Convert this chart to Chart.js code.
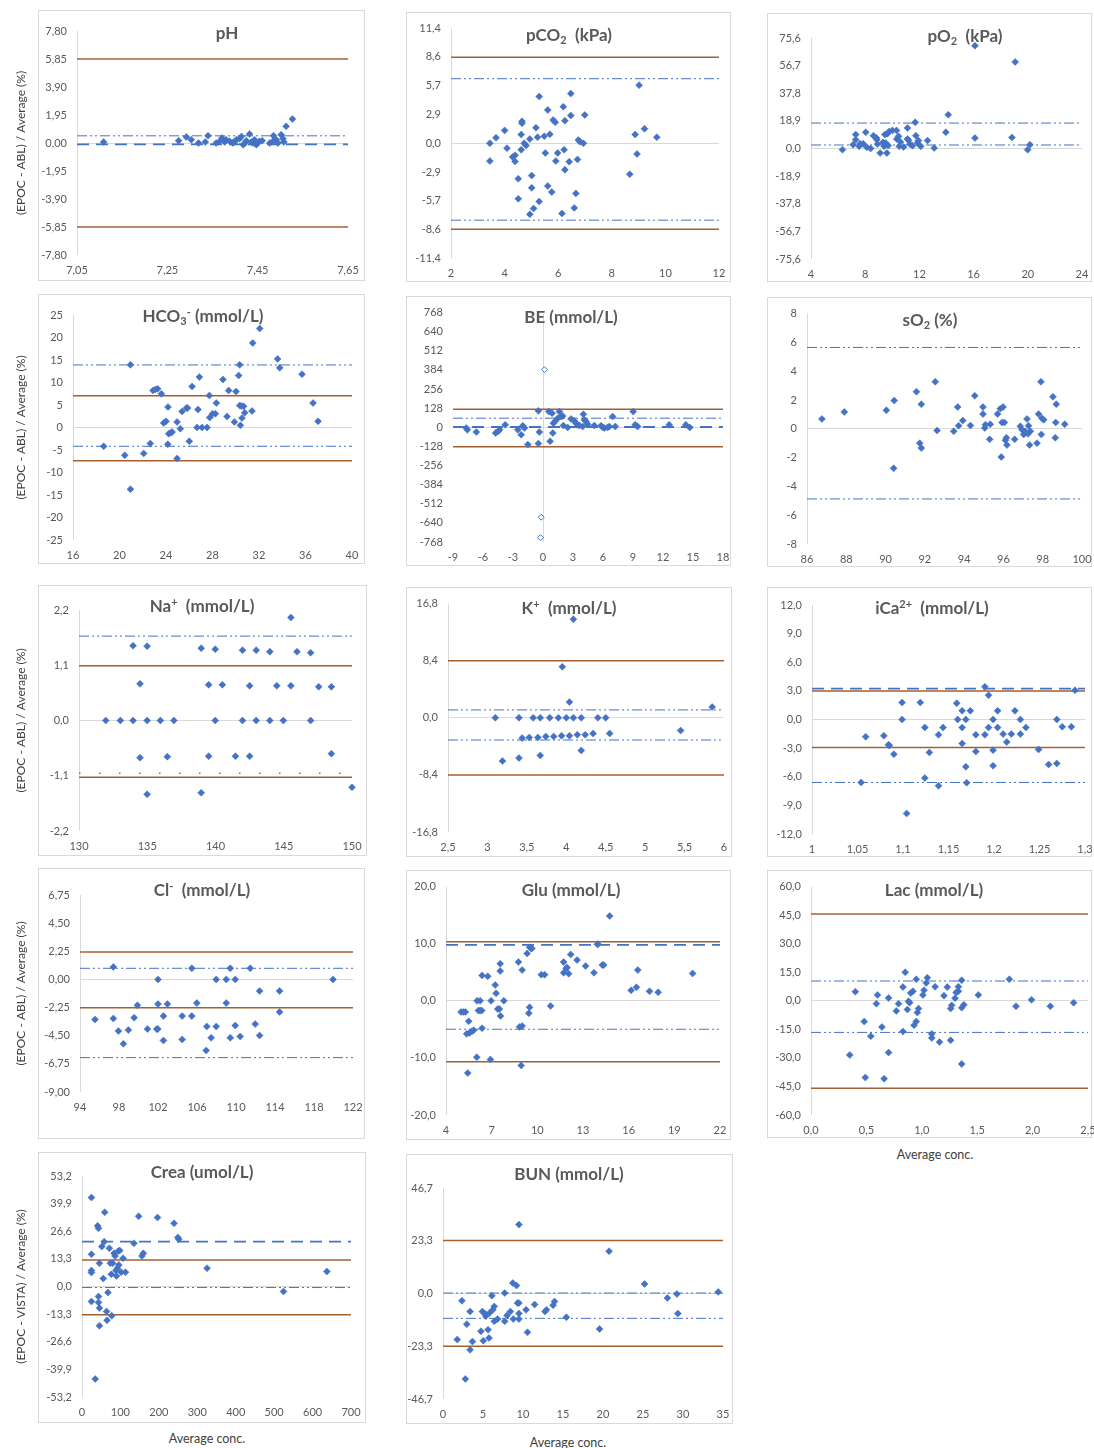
<!DOCTYPE html>
<html>
<head>
<meta charset="utf-8">
<title>EPOC Bland-Altman plots</title>
<script src="https://cdn.jsdelivr.net/npm/chart.js@4.4.1/dist/chart.umd.min.js"></script>
<style>
  html, body { margin: 0; padding: 0; background: #fff; overflow: hidden; }
  #page { position: relative; width: 1094px; height: 1448px; }
  .box { position: absolute; box-sizing: border-box; border: 1px solid #d9d9d9; }
  .plot { position: absolute; }
  .ttl { position: absolute; transform: translate(-50%, -50%); font: bold 17px Lato, sans-serif; color: #595959; white-space: nowrap; z-index: 2; }
  .ttl sub, .ttl sup { font-size: 11px; line-height: 0; }
  .ttl sub { vertical-align: -3px; }
  .ttl sup { vertical-align: 6px; }
  .xt { position: absolute; transform: translate(-50%, -50%); font: 12.5px Lato, sans-serif; color: #404040; white-space: nowrap; }
</style>
</head>
<body>
<div id="page"></div>
<script>
// ---- pH ----
const phAvg = [7.109,7.275,7.292,7.303,7.319,7.334,7.34,7.358,7.366,7.371,7.377,7.38,7.388,7.395,7.398,7.403,7.41,7.414,7.418,7.422,7.425,7.432,7.436,7.44,7.443,7.447,7.45,7.454,7.46,7.477,7.484,7.485,7.491,7.495,7.502,7.506,7.508,7.513,7.527];
const phDiff = [0.07,0.16,0.42,0.23,0,0.07,0.51,0,0.12,0.35,0.07,0.23,0.12,0,0.07,0.23,0.3,0.46,-0.12,0,0.16,0.63,0.07,0,0.23,-0.12,0,0.12,0.16,0,0.12,0.51,0.23,0,0.58,0.3,0.07,1.16,1.67];
const phXTicks = [7.05, 7.25, 7.45, 7.65];
const phYTicks = [-7.8, -5.85, -3.9, -1.95, 0, 1.95, 3.9, 5.85, 7.8];
const phBrown = [5.85, -5.85];
const phBlue = [0.5];
const phDashed = [-0.1];

// ---- pCO2 ----
const pco2Avg = [3.45,3.45,3.68,4.0,4.09,4.3,4.39,4.39,4.51,4.51,4.62,4.62,4.65,4.65,4.73,4.8,4.94,4.94,5.01,5.01,5.08,5.17,5.23,5.29,5.29,5.52,5.48,5.61,5.61,5.69,5.76,5.81,5.89,5.91,5.98,6.14,6.19,6.22,6.25,6.25,6.41,6.47,6.47,6.6,6.66,6.72,6.75,6.81,6.94,6.99,8.67,8.87,8.94,9.02,9.22,9.68];
const pco2Diff = [0,-1.77,0.55,1.28,-0.48,-1.35,-1.19,-1.8,-3.53,-5.52,0.87,-0.64,1.99,2.18,0,-0.22,0.42,-7.06,-4.43,-3.21,-6.48,1.54,0.61,-5.78,4.65,-0.96,0.71,3.31,-4.24,0.9,-4.85,2.31,2.09,-1.77,-0.96,-6.97,3.63,-0.64,2.25,-2.63,-1.83,4.94,2.76,-6.42,-4.98,-1.6,0.32,0.16,0,2.82,-3.08,0.87,-1.06,5.78,1.44,0.61];
const pco2XTicks = [2, 4, 6, 8, 10, 12];
const pco2YTicks = [-11.4, -8.6, -5.7, -2.9, 0, 2.9, 5.7, 8.6, 11.4];
const pco2Brown = [8.55, -8.55];
const pco2Blue = [6.42, -7.64];

// ---- pO2 ----
const po2Avg = [6.32,7.11,7.3,7.3,7.55,7.62,7.85,8.04,8.12,8.4,8.61,8.83,8.86,8.91,9.1,9.32,9.4,9.45,9.52,9.6,9.64,9.7,9.77,10.01,10.31,10.33,10.46,10.51,10.6,10.83,11.12,11.12,11.2,11.3,11.49,11.69,11.74,11.86,11.93,12.1,12.6,13.09,13.95,14.13,16.1,16.1,18.83,19.07,19.99,20.16];
const po2Diff = [-0.8,2.6,6.0,9.5,1.5,3.3,3.3,11.1,0.8,0,8.8,7.2,6.0,3.1,-3.1,4.2,1.5,9.5,3.8,-3.1,10.1,2.0,11.7,12.4,12.4,6.5,8.3,1.5,4.5,1.0,14.0,6.5,5.6,3.0,1.9,17.9,8.8,3.8,5.4,1.5,5.4,0.3,11.1,23.1,70.3,7.2,7.6,59.2,-0.8,2.6];
const po2XTicks = [4, 8, 12, 16, 20, 24];
const po2YTicks = [-75.6, -56.7, -37.8, -18.9, 0, 18.9, 37.8, 56.7, 75.6];
const po2Blue = [17.4, 2.4];

// ---- HCO3- ----
const hco3Avg = [18.64,20.45,20.94,20.94,22.08,22.65,22.88,23.08,23.28,23.6,23.8,24.0,24.15,24.17,24.23,24.43,24.52,24.95,24.95,25.23,25.38,25.75,25.86,26.0,26.24,26.67,26.75,26.87,27.1,27.53,27.73,27.76,28.0,28.25,28.33,28.9,29.25,29.39,29.88,30.02,30.25,30.34,30.34,30.4,30.48,30.54,30.68,30.77,31.4,31.46,32.06,33.6,33.78,35.7,36.65,37.08];
const hco3Diff = [-4.17,-6.16,13.92,-13.7,-5.76,-3.58,8.23,8.46,8.6,7.5,1.0,1.37,-3.73,4.54,-1.37,-1.15,-1.0,-6.9,1.22,-0.26,3.58,4.32,4.32,-3.06,9.12,0,4.0,11.2,0,0,7.1,2.2,3.06,3.06,5.43,10.67,2.47,8.23,1.22,8.0,11.56,4.9,13.92,0.48,4.76,2.1,4.7,3.29,3.66,18.8,22.0,15.25,13.26,11.85,5.43,1.37];
const hco3XTicks = [16, 20, 24, 28, 32, 36, 40];
const hco3YTicks = [-25, -20, -15, -10, -5, 0, 5, 10, 15, 20, 25];
const hco3Brown = [7.05, -7.4];
const hco3Blue = [13.9, -4.17];

// ---- BE ----
const beAvg = [-7.67,-7.57,-6.67,-4.74,-4.51,-4.34,-3.78,-2.52,-2.18,-2.02,-1.85,-1.52,-0.46,-0.46,-0.36,0.58,0.71,0.91,0.98,1.04,1.24,1.48,1.64,1.81,1.97,2.04,2.47,2.81,3.14,3.3,3.47,3.64,4.04,3.97,4.14,4.3,4.47,5.13,5.8,5.96,6.13,6.46,6.63,6.96,7.23,9.02,9.22,9.46,12.62,14.28,14.68];
const beDiff = [-5.5,-16.6,-32,-38.7,-27.6,-16.6,16.6,-16.6,-49.7,9.9,-5.5,-116,-109,110,-32,105,-94,94,-38.7,27.6,43,61,105,72,76,12,-1,56,43,27.6,16.6,12,87,5.5,50,38.7,21,12,10,1,-5.5,-1,5.5,72,5.5,105,16.6,5.5,16.6,16.6,-1];
const beOutAvg = [0.15, -0.18, -0.25];
const beOutDiff = [386, -602, -739];
const beXTicks = [-9, -6, -3, 0, 3, 6, 9, 12, 15, 18];
const beYTicks = [-768, -640, -512, -384, -256, -128, 0, 128, 256, 384, 512, 640, 768];
const beBrown = [121, -130];
const beBlue = [61];
const beDashed = [2];

// ---- sO2 ----
const so2Avg = [86.76,87.9,90.04,90.41,90.44,91.57,91.74,91.82,91.82,92.53,92.62,93.47,93.67,93.72,93.93,94.32,94.54,94.96,94.96,95.05,95.08,95.3,95.33,95.7,95.84,95.89,95.93,95.98,96.05,96.1,96.15,96.18,96.57,96.86,96.95,97.03,97.11,97.2,97.25,97.28,97.33,97.37,97.71,97.79,97.91,97.93,97.96,98.05,98.52,98.64,98.66,98.69,99.12];
const so2Diff = [0.68,1.17,1.29,-2.74,1.96,2.58,-1.0,-1.33,1.71,3.26,-0.12,-0.17,1.51,0.21,0.57,0.23,2.29,1.51,1.02,0.06,0.28,-0.73,0.32,1.02,1.4,-1.96,0.44,1.51,0.44,-0.79,-0.62,-1.13,-0.73,0.17,-0.06,-0.39,-0.17,0.68,-0.35,0.21,-1.13,-0.17,-1.0,1.02,3.26,-0.39,0.73,0.62,2.23,-0.62,0.44,1.71,0.32];
const so2XTicks = [86, 88, 90, 92, 94, 96, 98, 100];
const so2YTicks = [-8, -6, -4, -2, 0, 2, 4, 6, 8];
const so2Blue = [5.65, -4.87];

// ---- Na+ ----
const naAvg = [131.96,133.03,133.96,133.96,134.47,134.47,134.99,134.99,134.99,135.96,136.47,136.95,138.95,138.95,139.5,139.5,139.98,139.98,140.5,141.46,141.98,141.98,142.5,142.5,142.98,142.98,143.98,143.98,144.49,144.97,145.52,145.52,145.97,146.97,146.97,147.56,148.49,148.49,150];
const naDiff = [0,0,0,1.49,0.73,-0.74,0,1.48,-1.47,0,-0.72,0,1.44,-1.44,0.71,-0.71,1.42,0,0.71,-0.71,1.4,0,0.69,-0.71,1.4,0,1.37,0,0.69,0,2.05,0.69,1.37,1.35,0,0.67,0.67,-0.66,-1.33];
const naXTicks = [130, 135, 140, 145, 150];
const naYTicks = [-2.2, -1.1, 0, 1.1, 2.2];
const naBrown = [1.09, -1.13];
const naBlue = [1.68];
const naDotted = [-1.05];

// ---- K+ ----
const kAvg = [3.1,3.19,3.4,3.4,3.44,3.53,3.58,3.64,3.67,3.67,3.74,3.79,3.84,3.9,3.94,3.95,4.0,4.04,4.04,4.09,4.09,4.14,4.19,4.19,4.24,4.34,4.4,4.5,4.55,5.45,5.85];
const kDiff = [0,-6.36,0,-5.92,-2.98,-2.89,0,-2.89,0,-5.54,-2.74,0,-2.74,0,-2.65,7.51,0,-2.65,2.31,0,14.5,-2.5,0,-4.8,-2.5,-2.3,0,0,-2.3,-1.88,1.59];
const kXTicks = [2.5, 3, 3.5, 4, 4.5, 5, 5.5, 6];
const kYTicks = [-16.8, -8.4, 0, 8.4, 16.8];
const kBrown = [8.4, -8.4];
const kBlue = [1.16, -3.27];

// ---- iCa2+ ----
const icaAvg = [1.054,1.059,1.079,1.084,1.085,1.09,1.099,1.099,1.104,1.119,1.124,1.124,1.129,1.139,1.139,1.144,1.159,1.16,1.165,1.165,1.165,1.169,1.169,1.17,1.174,1.18,1.18,1.19,1.19,1.194,1.194,1.199,1.199,1.199,1.204,1.204,1.21,1.214,1.219,1.223,1.229,1.229,1.235,1.249,1.26,1.269,1.269,1.275,1.285,1.289];
const icaDiff = [-6.59,-1.81,-1.71,-2.65,-2.72,-3.63,1.78,0,-9.84,1.78,-0.84,-6.14,-3.45,-1.6,-6.94,-0.84,1.71,0,0.91,-0.84,-2.51,0,-4.95,-6.63,0.91,-1.6,-3.35,-1.6,3.42,2.55,-0.84,0,-3.21,-4.85,0.91,-0.84,-1.53,-2.37,-1.53,0.91,0,-1.53,-0.84,-3.14,-4.71,0,-4.6,-0.77,-0.77,3.07];
const icaXTicks = [1, 1.05, 1.1, 1.15, 1.2, 1.25, 1.3];
const icaYTicks = [-12, -9, -6, -3, 0, 3, 6, 9, 12];
const icaBrown = [3.0, -2.93];
const icaBlue = [-6.6];
const icaDashed = [3.24];

// ---- Cl- ----
const clAvg = [95.54,97.42,97.42,97.94,98.45,98.96,99.55,99.89,100.92,101.87,101.98,102.0,102.0,102.56,102.56,102.97,104.48,104.48,105.47,105.47,105.98,106.94,107.0,107.45,107.97,107.97,109.0,109.0,109.41,109.41,109.92,109.92,110.43,111.46,111.97,112.42,112.42,114.47,114.47,119.95];
const clDiff = [-3.2,-3.12,1.0,-4.13,-5.15,-4.05,-3.06,-2.07,-3.97,-3.97,-3.97,0,-1.97,-2.93,-4.88,-1.97,-2.93,-4.8,-2.93,0.89,-1.89,-5.68,-3.76,-4.67,0,-3.76,0,-1.89,-4.67,0.89,0,-3.68,-4.56,0.89,-3.57,-0.92,-4.48,-0.92,-2.6,0];
const clXTicks = [94, 98, 102, 106, 110, 114, 118, 122];
const clYTicks = [-9, -6.75, -4.5, -2.25, 0, 2.25, 4.5, 6.75];
const clBrown = [2.2, -2.26];
const clBlue = [0.89, -6.25];

// ---- Glu ----
const gluAvg = [4.99,5.14,5.27,5.36,5.43,5.49,5.54,5.71,5.82,6.02,6.04,6.13,6.24,6.24,6.35,6.37,6.37,6.74,6.92,6.96,7.23,7.29,7.4,7.51,7.56,7.56,7.58,7.8,8.76,8.83,8.94,9.0,9.0,9.33,9.44,9.49,9.49,9.6,9.64,10.26,10.48,10.87,11.73,11.73,11.9,11.95,12.06,12.19,12.61,13.17,13.72,13.94,13.99,14.27,14.36,14.75,16.16,16.51,16.6,17.37,17.94,20.2];
const gluDiff = [-1.95,-1.95,-1.95,-5.79,-12.66,-3.58,-5.62,-5.33,-5.15,-9.87,0,-1.72,0,-1.72,-1.72,4.45,-4.8,4.28,-10.27,0,2.76,1.31,-1.43,-1.43,6.49,5.21,-2.65,0,6.78,-4.57,-11.32,-4.4,5.38,8.29,-2.18,-1.14,9.4,9.17,9.17,4.57,4.57,-0.9,6.78,4.92,5.67,5.85,4.74,8.12,7.13,6.08,4.92,9.92,9.92,6.26,6.26,14.87,1.83,2.36,5.38,1.66,1.48,4.8];
const gluXTicks = [4, 7, 10, 13, 16, 19, 22];
const gluYTicks = [-20, -10, 0, 10, 20];
const gluBrown = [10.33, -10.68];
const gluBlue = [-4.98];
const gluDashed = [9.81];

// ---- Lac ----
const lacAvg = [0.35,0.4,0.48,0.49,0.54,0.59,0.6,0.64,0.66,0.7,0.7,0.79,0.77,0.83,0.83,0.85,0.87,0.88,0.89,0.9,0.92,0.93,0.95,0.95,0.96,0.97,1.01,1.02,1.04,1.05,1.09,1.09,1.12,1.16,1.2,1.23,1.26,1.26,1.27,1.3,1.31,1.33,1.33,1.36,1.36,1.36,1.38,1.51,1.79,1.85,1.99,2.16,2.37];
const lacDiff = [-28.5,4.8,-10.9,-40.3,-18.6,-1.5,3.1,-13.8,-40.9,-27.2,1.5,-1.5,-5.3,7.2,-16.1,15.0,-4.6,-0.3,-1.0,4.1,5.0,-12.8,11.3,-10.9,-6.2,-4.1,3.1,5.6,9.4,12.1,-17.4,-19.5,7.4,-21.7,2.7,7.2,-4.1,-20.7,-2.4,1.4,4.4,5.0,7.4,10.8,-3.6,-33.2,-2.1,3.1,11.3,-2.9,0.5,-2.9,-1.0];
const lacXTicks = [0, 0.5, 1, 1.5, 2, 2.5];
const lacYTicks = [-60, -45, -30, -15, 0, 15, 30, 45, 60];
const lacBrown = [45.6, -46];
const lacBlue = [10.4, -16.6];

// ---- Crea ----
const creaAvg = [24.6,24.6,24.6,24.6,24.6,34.4,40.5,43,45.4,43,43,45.4,45.4,51.6,55.3,59,57.7,63.9,65.1,67.5,71.2,73.7,76.2,77.4,79.8,83.5,86,88.4,89.6,92.1,94.5,95.8,98.2,101.9,106.8,113,135.1,147.4,156,159.6,196.5,239.5,249.3,251.7,325.4,524.4,637.3];
const creaDiff = [42.8,15.5,7.7,6.7,-7.2,-44.5,29.2,28,11.2,-4.8,-7.7,-10.4,-18.9,19.2,3.8,35.7,21.6,-12,-16.3,-2.9,18.4,11.2,5.9,-14.1,11.2,16,14.7,7.7,5.1,8.8,17.1,10.4,17.3,6.9,13.6,6.9,20.8,33.8,14.7,16,33.2,30.4,23.6,22.8,8.8,-2.4,7.2];
const creaXTicks = [0, 100, 200, 300, 400, 500, 600, 700];
const creaYTicks = [-53.2, -39.9, -26.6, -13.3, 0, 13.3, 26.6, 39.9, 53.2];
const creaBrown = [12.8, -13.6];
const creaBlue = [-0.5];
const creaDashed = [21.6];

// ---- BUN ----
const bunAvg = [1.78,2.37,2.79,2.97,3.38,3.38,3.68,4.74,4.92,5.04,5.22,5.34,5.63,5.75,5.81,6.11,6.23,6.41,6.41,6.82,7.71,7.71,8.01,8.42,8.72,8.78,9.19,9.31,9.49,9.49,9.49,9.49,10.38,10.56,11.45,12.75,12.93,13.76,13.94,15.42,19.57,20.76,25.2,28.05,29.24,29.36,34.4];
const bunDiff = [-20.4,-3.2,-37.8,-13.6,-8,-24.9,-21.3,-16.7,-8,-20.9,-8.9,-10.1,-16,-19.7,-8.6,-1,-7.2,-5.7,-12.3,-11.3,0.2,-12.3,-9.7,-8,4.6,-11.3,3.5,-4.2,-4.2,30.5,-8.9,-11.3,-7.2,-17.2,-4.9,-8,-7.2,-5.2,-3.5,-10.5,-15.7,18.7,4.2,-2,-0.2,-8.9,0.7];
const bunXTicks = [0, 5, 10, 15, 20, 25, 30, 35];
const bunYTicks = [-46.7, -23.3, 0, 23.3, 46.7];
const bunBrown = [23.5, -23.4];
const bunBlue = [0.2, -11];

const ABL = '(EPOC - ABL) / Average (%)';
const VISTA = '(EPOC - VISTA) / Average (%)';
const XTITLE = 'Average conc.';

const BROWN = '#A65F30';
const BLUE = '#4472C4';
const GRID = '#D9D9D9';
const TICK = '#595959';

const styles = {
  brown:  { color: BROWN, width: 1.5, dash: [] },
  blue:   { color: BLUE, width: 1, dash: [10, 3, 2, 3, 2, 3] },
  dashed: { color: BLUE, width: 1.8, dash: [12, 7] },
  dotted: { color: BLUE, width: 1.5, dash: [1.5, 18.5] }
};

// box = frame [x, y, w, h]; area = plot rectangle [left, top, right, bottom] in page pixels
const panels = [
  { title: 'pH', tpos: [227, 32], box: [38, 10, 327, 271], area: [77, 31, 348, 255],
    avg: phAvg, diff: phDiff, xTicks: phXTicks, yTicks: phYTicks, xDec: 2, yDec: 2,
    lines: { brown: phBrown, blue: phBlue, dashed: phDashed }, yTitle: ABL },
  { title: 'pCO<sub>2</sub>&nbsp; (kPa)', tpos: [569, 34], box: [406, 12, 325, 270], area: [451, 22, 719, 258],
    avg: pco2Avg, diff: pco2Diff, xTicks: pco2XTicks, yTicks: pco2YTicks, xDec: null, yDec: 1,
    lines: { brown: pco2Brown, blue: pco2Blue } },
  { title: 'pO<sub>2</sub>&nbsp; (kPa)', tpos: [965, 35], box: [767, 13, 325, 269], area: [811, 38, 1082, 259],
    avg: po2Avg, diff: po2Diff, xTicks: po2XTicks, yTicks: po2YTicks, xDec: null, yDec: 1,
    lines: { blue: po2Blue } },

  { title: 'HCO<sub>3</sub><sup>-</sup> (mmol/L)', tpos: [203, 315], box: [38, 294, 327, 270], area: [73, 315, 352, 540],
    avg: hco3Avg, diff: hco3Diff, xTicks: hco3XTicks, yTicks: hco3YTicks, xDec: null, yDec: 0,
    lines: { brown: hco3Brown, blue: hco3Blue }, yTitle: ABL },
  { title: 'BE (mmol/L)', tpos: [571, 316], box: [406, 296, 325, 270], area: [453, 311, 723, 542],
    avg: beAvg, diff: beDiff, xTicks: beXTicks, yTicks: beYTicks, xDec: null, yDec: 0, cross: 0,
    lines: { brown: beBrown, blue: beBlue, dashed: beDashed },
    hollow: { avg: beOutAvg, diff: beOutDiff } },
  { title: 'sO<sub>2</sub> (%)', tpos: [930, 319], box: [767, 297, 325, 270], area: [807, 306, 1082, 544],
    avg: so2Avg, diff: so2Diff, xTicks: so2XTicks, yTicks: so2YTicks, xDec: null, yDec: 0,
    lines: { blue: so2Blue } },

  { title: 'Na<sup>+</sup>&nbsp; (mmol/L)', tpos: [202, 605], box: [38, 585, 329, 271], area: [79, 610, 352, 831],
    avg: naAvg, diff: naDiff, xTicks: naXTicks, yTicks: naYTicks, xDec: null, yDec: 1,
    lines: { brown: naBrown, blue: naBlue, dotted: naDotted }, yTitle: ABL },
  { title: 'K<sup>+</sup>&nbsp; (mmol/L)', tpos: [569, 607], box: [406, 587, 326, 270], area: [448, 600, 724, 832],
    avg: kAvg, diff: kDiff, xTicks: kXTicks, yTicks: kYTicks, xDec: null, yDec: 1,
    lines: { brown: kBrown, blue: kBlue } },
  { title: 'iCa<sup>2+</sup>&nbsp; (mmol/L)', tpos: [932, 607], box: [767, 587, 325, 270], area: [812, 605, 1085, 834],
    avg: icaAvg, diff: icaDiff, xTicks: icaXTicks, yTicks: icaYTicks, xDec: null, yDec: 1,
    lines: { brown: icaBrown, blue: icaBlue, dashed: icaDashed } },

  { title: 'Cl<sup>-</sup>&nbsp; (mmol/L)', tpos: [202, 889], box: [38, 868, 327, 271], area: [80, 895, 353, 1092],
    avg: clAvg, diff: clDiff, xTicks: clXTicks, yTicks: clYTicks, xDec: null, yDec: 2,
    lines: { brown: clBrown, blue: clBlue }, yTitle: ABL },
  { title: 'Glu (mmol/L)', tpos: [571, 889], box: [406, 870, 325, 270], area: [446, 886, 720, 1115],
    avg: gluAvg, diff: gluDiff, xTicks: gluXTicks, yTicks: gluYTicks, xDec: null, yDec: 1,
    lines: { brown: gluBrown, blue: gluBlue, dashed: gluDashed } },
  { title: 'Lac (mmol/L)', tpos: [934, 889], box: [767, 870, 325, 268], area: [811, 881, 1088, 1115],
    avg: lacAvg, diff: lacDiff, xTicks: lacXTicks, yTicks: lacYTicks, xDec: 1, yDec: 1,
    lines: { brown: lacBrown, blue: lacBlue }, xTitle: [935, 1154] },

  { title: 'Crea (umol/L)', tpos: [202, 1171], box: [38, 1152, 328, 271], area: [82, 1176, 351, 1397],
    avg: creaAvg, diff: creaDiff, xTicks: creaXTicks, yTicks: creaYTicks, xDec: null, yDec: 1,
    lines: { brown: creaBrown, blue: creaBlue, dashed: creaDashed }, yTitle: VISTA, xTitle: [207, 1438] },
  { title: 'BUN (mmol/L)', tpos: [569, 1173], box: [406, 1154, 327, 270], area: [443, 1188, 723, 1399],
    avg: bunAvg, diff: bunDiff, xTicks: bunXTicks, yTicks: bunYTicks, xDec: null, yDec: 1,
    lines: { brown: bunBrown, blue: bunBlue }, xTitle: [568, 1442] }
];

function fmt(v, dec) {
  const s = dec == null ? String(+v.toFixed(6)) : v.toFixed(dec);
  return s.replace('.', ',');
}

function hLine(v, x0, x1, st) {
  return {
    data: [{ x: x0, y: v }, { x: x1, y: v }],
    showLine: true, pointRadius: 0, borderColor: st.color, borderWidth: st.width,
    borderDash: st.dash, clip: false
  };
}

const page = document.getElementById('page');

panels.forEach(p => {
  const [bx, by, bw, bh] = p.box;
  const [L, T, R, B] = p.area;

  const box = document.createElement('div');
  box.className = 'box';
  box.style.cssText = `left:${bx}px;top:${by}px;width:${bw}px;height:${bh}px`;
  page.appendChild(box);

  const cx = p.yTitle ? 0 : bx;
  const cy = by;
  const cw = R + 20 - cx;
  const ch = by + bh - cy;

  const wrap = document.createElement('div');
  wrap.className = 'plot';
  wrap.style.cssText = `left:${cx}px;top:${cy}px;width:${cw}px;height:${ch}px`;
  const canvas = document.createElement('canvas');
  canvas.width = cw;
  canvas.height = ch;
  wrap.appendChild(canvas);
  page.appendChild(wrap);

  const ttl = document.createElement('div');
  ttl.className = 'ttl';
  ttl.innerHTML = p.title;
  ttl.style.left = p.tpos[0] + 'px';
  ttl.style.top = p.tpos[1] + 'px';
  page.appendChild(ttl);

  if (p.xTitle) {
    const xt = document.createElement('div');
    xt.className = 'xt';
    xt.textContent = XTITLE;
    xt.style.left = p.xTitle[0] + 'px';
    xt.style.top = p.xTitle[1] + 'px';
    page.appendChild(xt);
  }

  const xMin = p.xTicks[0], xMax = p.xTicks[p.xTicks.length - 1];
  const yMin = p.yTicks[0], yMax = p.yTicks[p.yTicks.length - 1];
  const cross = p.cross !== undefined ? p.cross : xMin;

  const datasets = [{
    data: p.avg.map((x, i) => ({ x, y: p.diff[i] })),
    pointStyle: 'rectRot', pointRadius: 3.5,
    pointBackgroundColor: BLUE, pointBorderColor: BLUE, pointBorderWidth: 0.5,
    showLine: false, clip: false
  }];
  if (p.hollow) {
    datasets.push({
      data: p.hollow.avg.map((x, i) => ({ x, y: p.hollow.diff[i] })),
      pointStyle: 'rectRot', pointRadius: 3,
      pointBackgroundColor: '#fff', pointBorderColor: BLUE, pointBorderWidth: 1,
      showLine: false, clip: false
    });
  }
  Object.keys(p.lines).forEach(k => {
    p.lines[k].forEach(v => datasets.push(hLine(v, xMin, xMax, styles[k])));
  });

  const tickFont = { family: 'Lato', size: 11 };

  new Chart(canvas, {
    type: 'scatter',
    data: { datasets },
    options: {
      responsive: false,
      animation: false,
      devicePixelRatio: 1,
      events: [],
      layout: { autoPadding: false, padding: { top: T - cy, right: cx + cw - R, left: 0, bottom: 0 } },
      plugins: { legend: { display: false }, tooltip: { enabled: false } },
      scales: {
        x: {
          type: 'linear', min: xMin, max: xMax,
          afterBuildTicks: s => { s.ticks = p.xTicks.map(v => ({ value: v })); },
          afterFit: s => { s.height = cy + ch - B; },
          border: { display: false },
          grid: {
            drawTicks: false, lineWidth: 1,
            color: c => (c.tick && Math.abs(c.tick.value - cross) < 1e-9) ? GRID : 'rgba(0,0,0,0)'
          },
          ticks: { font: tickFont, color: TICK, padding: 9, maxRotation: 0, autoSkip: false,
                   callback: v => fmt(v, p.xDec) }
        },
        y: {
          type: 'linear', min: yMin, max: yMax,
          afterBuildTicks: s => { s.ticks = p.yTicks.map(v => ({ value: v })); },
          afterFit: s => { s.width = L - cx; },
          border: { display: false },
          grid: {
            drawTicks: false, lineWidth: 1,
            color: c => (c.tick && Math.abs(c.tick.value) < 1e-9) ? GRID : 'rgba(0,0,0,0)'
          },
          ticks: { font: tickFont, color: TICK, padding: 10, autoSkip: false,
                   callback: v => fmt(v, p.yDec) },
          title: p.yTitle
            ? { display: true, text: p.yTitle, color: '#404040',
                font: { family: 'Lato', size: 12 }, padding: { top: 14, bottom: 0 } }
            : { display: false }
        }
      }
    }
  });
});
</script>
</body>
</html>
